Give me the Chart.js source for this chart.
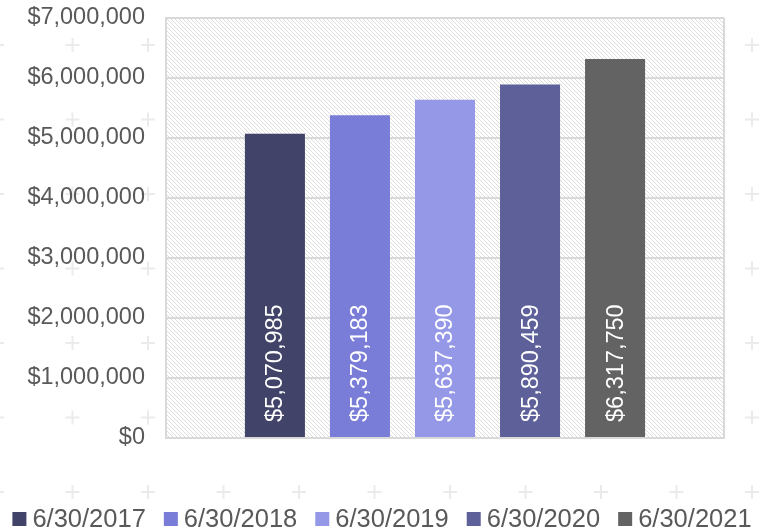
<!DOCTYPE html>
<html>
<head>
<meta charset="utf-8">
<script src="https://cdn.jsdelivr.net/npm/chart.js@4"></script>
<style>
  html, body { margin: 0; padding: 0; background: #fff; }
  #wrap { width: 775px; height: 532px; }
</style>
</head>
<body>
<div id="wrap"><canvas id="valueChart" width="775" height="532"></canvas></div>
<script>
const categories = [""];
const seriesNames = ["6/30/2017", "6/30/2018", "6/30/2019", "6/30/2020", "6/30/2021"];
const seriesValues = [5070985, 5379183, 5637390, 5890459, 6317750];
const seriesColors = ["#414468", "#7a7dd7", "#9598e6", "#5e6099", "#636363"];
const yTicks = [0, 1000000, 2000000, 3000000, 4000000, 5000000, 6000000, 7000000];

const FONT = "'Liberation Sans', Arial, sans-serif";
const TEXT = "#595959";
const GRID = "#d9d9d9";

function money(v) {
  return "$" + Number(v).toLocaleString("en-US");
}

function hatchPattern(ctx) {
  const tile = document.createElement("canvas");
  tile.width = 4;
  tile.height = 4;
  const t = tile.getContext("2d");
  t.fillStyle = "#ffffff";
  t.fillRect(0, 0, 4, 4);
  t.fillStyle = "#dedede";
  for (let i = 0; i < 4; i++) t.fillRect(i, i, 1, 1);
  return ctx.createPattern(tile, "repeat");
}

// page background with faint crosses, then the hatched plot area
const backdrop = {
  id: "backdrop",
  beforeDraw(chart) {
    const { ctx, chartArea: a, width, height } = chart;
    ctx.save();
    ctx.fillStyle = "#ffffff";
    ctx.fillRect(0, 0, width, height);
    ctx.strokeStyle = "#ebebeb";
    ctx.lineWidth = 2;
    for (let x = -3; x < width + 10; x += 75.5) {
      for (let y = 45; y < height + 10; y += 74.5) {
        ctx.beginPath();
        ctx.moveTo(x - 7, y);
        ctx.lineTo(x + 7, y);
        ctx.moveTo(x, y - 7);
        ctx.lineTo(x, y + 7);
        ctx.stroke();
      }
    }
    ctx.fillStyle = hatchPattern(ctx);
    ctx.fillRect(a.left, a.top, a.right - a.left, a.bottom - a.top);
    ctx.restore();
  }
};

// vertical value labels inside the bars
const barLabels = {
  id: "barLabels",
  afterDatasetsDraw(chart) {
    const ctx = chart.ctx;
    ctx.save();
    ctx.fillStyle = "#ffffff";
    ctx.font = "23.5px " + FONT;
    ctx.textAlign = "left";
    ctx.textBaseline = "middle";
    chart.data.datasets.forEach((ds, i) => {
      const bar = chart.getDatasetMeta(i).data[0];
      ctx.save();
      ctx.translate(bar.x + 1, bar.base - 15);
      ctx.rotate(-Math.PI / 2);
      ctx.fillText(money(ds.data[0]), 0, 0);
      ctx.restore();
    });
    ctx.restore();
  }
};

// legend row at the bottom
const bottomLegend = {
  id: "bottomLegend",
  afterDraw(chart) {
    const ctx = chart.ctx;
    ctx.save();
    ctx.font = "25.5px " + FONT;
    ctx.textBaseline = "middle";
    ctx.textAlign = "left";
    const box = 14, gap = 6, space = 18;
    const items = chart.data.datasets.map(ds => ({
      label: ds.label,
      color: ds.backgroundColor,
      w: box + gap + ctx.measureText(ds.label).width
    }));
    const total = items.reduce((s, it) => s + it.w, 0) + space * (items.length - 1);
    let x = 382 - total / 2;
    const y = 519;
    items.forEach(it => {
      ctx.fillStyle = it.color;
      ctx.fillRect(x, y - 7, box, box);
      ctx.fillStyle = TEXT;
      ctx.fillText(it.label, x + box + gap, y + 1);
      x += it.w + space;
    });
    ctx.restore();
  }
};

const datasets = seriesNames.map((name, i) => ({
  label: name,
  data: [seriesValues[i]],
  backgroundColor: seriesColors[i],
  borderWidth: 0,
  categoryPercentage: 0.762,
  barPercentage: 0.706
}));

new Chart(document.getElementById("valueChart").getContext("2d"), {
  type: "bar",
  data: { labels: categories, datasets: datasets },
  options: {
    responsive: false,
    animation: false,
    layout: { padding: { top: 18, right: 51, bottom: 94, left: 0 } },
    plugins: {
      legend: { display: false },
      tooltip: { enabled: false }
    },
    scales: {
      x: {
        ticks: { display: false },
        grid: { color: GRID, lineWidth: 2, drawTicks: false },
        border: { color: GRID, width: 2 }
      },
      y: {
        min: 0,
        max: 7000000,
        afterBuildTicks(scale) {
          scale.ticks = yTicks.map(v => ({ value: v }));
        },
        afterFit(scale) {
          scale.width = 166;
          scale.paddingTop = 0;
          scale.paddingBottom = 0;
        },
        ticks: {
          padding: 21,
          color: TEXT,
          font: { family: FONT, size: 23.5 },
          callback: v => money(v)
        },
        grid: { color: GRID, lineWidth: 2, drawTicks: false },
        border: { color: GRID, width: 2 }
      }
    }
  },
  plugins: [backdrop, barLabels, bottomLegend]
});
</script>
</body>
</html>
